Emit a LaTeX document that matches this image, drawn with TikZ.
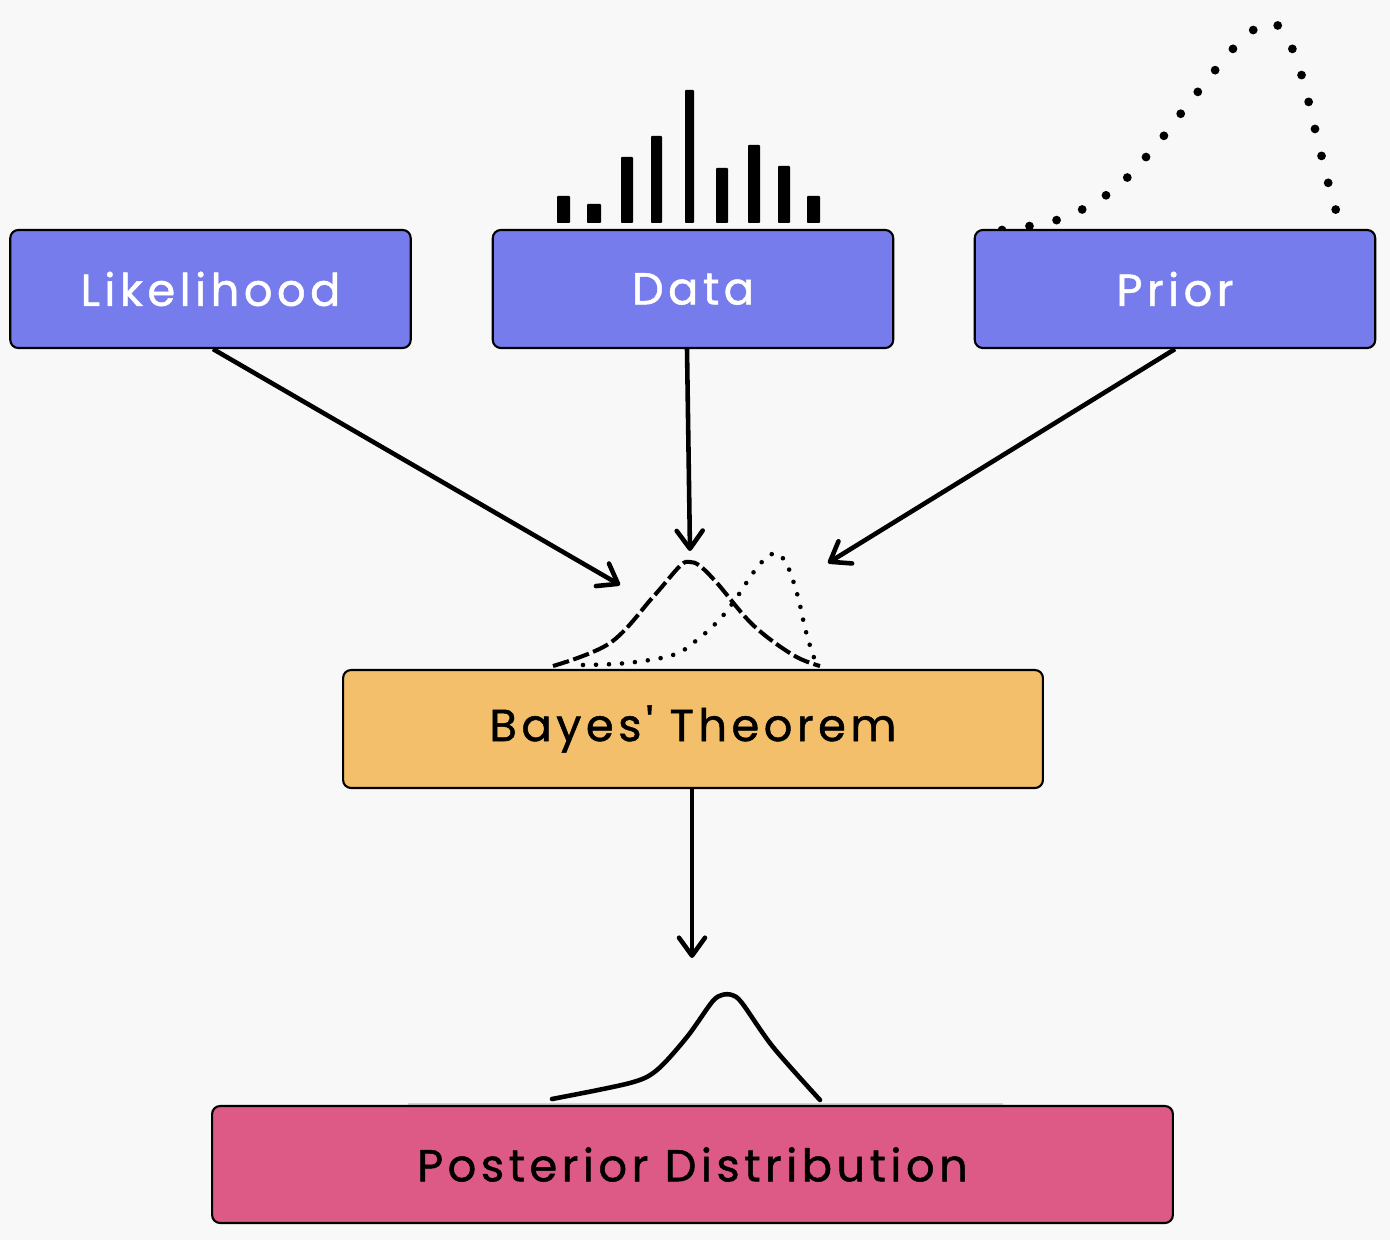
\documentclass[tikz,border=0pt]{standalone}
\usepackage{fontspec}
\newfontfamily\pop{Poppins}[LetterSpace=10, FakeBold=1.1]
\usetikzlibrary{arrows.meta}
\definecolor{bg}{HTML}{F8F8F8}
\definecolor{boxblue}{HTML}{777CEC}
\definecolor{boxorange}{HTML}{F3BF6B}
\definecolor{boxpink}{HTML}{DE5A86}
\begin{document}
\begin{tikzpicture}[x=0.02cm,y=-0.02cm,
  box/.style={draw=black, line width=1.2pt, rounded corners=0.16cm,
    minimum height=2.36cm, inner sep=0pt, font=\pop\fontsize{25.5}{30}\selectfont},
  bluebox/.style={box, fill=boxblue, text=white, minimum width=8.01cm},
  arr/.style={line width=2.6pt, -{Straight Barb[length=0.36cm,width=0.52cm,round]}},
  bar/.style={fill=black, rounded corners=0.5pt},
  bigdots/.style={line width=5pt, line cap=round, dash pattern=on 0pt off 15.8pt},
  smalldash/.style={line width=2.3pt, dash pattern=on 9.5pt off 2.6pt},
  smalldots/.style={line width=2.6pt, line cap=round, dash pattern=on 0pt off 7.4pt},
  postcurve/.style={line width=2.6pt, line join=round, line cap=round}]
\fill[bg] (0,0) rectangle (1390,1240);
\useasboundingbox (0,0) rectangle (1390,1240);

% data bars
\fill[bar] (557,196) rectangle (570,223);
\fill[bar] (587,204) rectangle (601,223);
\fill[bar] (621,157) rectangle (633,223);
\fill[bar] (651,136) rectangle (662,223);
\fill[bar] (685,90) rectangle (694,223);
\fill[bar] (716,168) rectangle (728,223);
\fill[bar] (748,145) rectangle (760,223);
\fill[bar] (778,166) rectangle (790,223);
\fill[bar] (807,196) rectangle (820,223);

% prior curve (dotted)
\draw[bigdots] plot[smooth, tension=0.6] coordinates {(1002,230) (1060,219) (1112,191)
  (1153,149) (1189,103) (1226,57) (1248,34) (1272,22) (1290,44) (1303,80)
  (1315,129) (1329,186) (1338,217)};

% small curves above Bayes
\draw[smalldots] plot[smooth, tension=0.6] coordinates {(583,665) (627,663) (673,655)
  (697,640) (720,619) (737,597) (753,573) (767,557) (778,554) (788,567)
  (798,597) (805,628) (812,652) (817,665)};
\draw[smalldash] plot[smooth, tension=0.6] coordinates {(553,666) (610,643) (653,597)
  (680,566) (690,562) (700,566) (717,583) (753,625) (793,655) (820,666)};

% posterior curve
\draw[gray!35, line width=0.8pt] (408,1104) -- (1003,1104);
\draw[postcurve] plot[smooth, tension=0.5] coordinates {(552,1099) (630,1083) (657,1070)
  (687,1037) (712,1002) (722,995) (732,995) (742,1003) (773,1047) (820,1100)};

% boxes
\node[bluebox] (lik) at (210.5,289) {Likelihood};
\node[bluebox] (data) at (693,289) {Data};
\node[bluebox] (prior) at (1175,289) {Prior};
\node[box, fill=boxorange, minimum width=14cm] (bayes) at (693,729) {Bayes' Theorem};
\node[box, fill=boxpink, minimum width=19.22cm, minimum height=2.34cm] (post)
  at (692.5,1164.5) {Posterior Distribution};

% arrow ends
\coordinate (likend) at (620,585);
\coordinate (dataend) at (690,551);
\coordinate (priorend) at (828,563);
\coordinate (postend) at (692,958);

\draw[arr] ([xshift=0.05cm]lik.south) -- (likend);
\draw[arr] ([xshift=-0.12cm]data.south) -- (dataend);
\draw[arr] (prior.south) -- (priorend);
\draw[arr] ([xshift=-0.02cm]bayes.south) -- (postend);
\end{tikzpicture}
\end{document}
